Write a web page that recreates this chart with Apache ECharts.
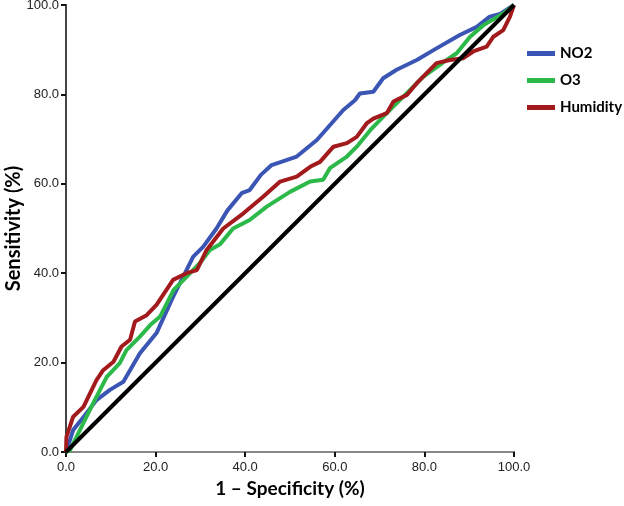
<!DOCTYPE html>
<html>
<head>
<meta charset="utf-8">
<script src="https://cdn.jsdelivr.net/npm/echarts@6/dist/echarts.min.js"></script>
<style>
  html, body { margin: 0; padding: 0; background: #fff; }
  #chart { width: 624px; height: 506px; }
</style>
</head>
<body>
<div id="chart"></div>
<script>
// ROC curves, values: [1 - specificity, sensitivity] in %
const no2 = [[0,0],[1.6,4.9],[3.1,6.8],[6.8,11.6],[9.8,13.9],[12.8,15.7],[16.5,22.1],[20.2,26.6],
  [23.9,34.7],[28.4,43.7],[30.6,45.9],[33.6,50],[36,54],[39.2,57.9],[41,58.6],[43.5,62],[45.9,64.2],
  [51.5,66.1],[56,69.8],[61.9,76.5],[64.5,78.7],[65.6,80.2],[68.6,80.6],[70.8,83.6],[73.8,85.5],
  [78.3,87.7],[82.7,90.3],[87.9,93.3],[91.7,95.1],[94.6,97.4],[96.9,98],[100,100]];
const o3 = [[0,0],[0.9,0.4],[3.1,4.9],[6.1,11],[9.1,16.8],[12,19.9],[13.5,22.8],[16.5,25.8],
  [18.8,28.4],[21,30.3],[24,36.2],[26.9,39.2],[29.9,42.3],[32.1,45.2],[34.4,46.5],[37.3,50],
  [41,51.9],[44.8,54.9],[50,58.2],[54.5,60.5],[57.4,60.9],[58.9,63.5],[62.7,66.1],[64.9,68.3],
  [67.9,72],[71.6,75.8],[75.3,79.5],[79.8,84],[85,87.7],[87.2,89.2],[90.2,92.9],[93.2,95.5],
  [97.6,98.1],[100,100]];
const humidity = [[0,0],[0.1,3.4],[1.6,7.9],[3.9,10.1],[6.8,16.1],[8.3,18.3],[10.6,20.2],[12.4,23.6],
  [14.3,25.1],[15.4,29.2],[18,30.6],[20.2,32.9],[23.9,38.5],[26.9,40],[29.2,40.7],[31.4,45.2],
  [35.1,50],[39.6,53.4],[44,57.1],[47.8,60.5],[51.5,61.6],[54.5,63.8],[56.7,64.9],[59.7,68.3],
  [62.7,69.1],[64.9,70.5],[67.1,73.5],[68.6,74.6],[71.6,75.8],[73.1,78.4],[76.1,79.9],[78.3,82.5],
  [82.7,87],[85.7,87.7],[88.7,88.1],[90.9,89.6],[93.9,90.7],[95.4,92.9],[97.6,94.4],[99.1,97.4],
  [100,100]];
const reference = [[0,0],[100,100]];
const seriesNames = ['NO2', 'O3', 'Humidity'];
const tickLabels = ['0.0', '20.0', '40.0', '60.0', '80.0', '100.0'];

const chart = echarts.init(document.getElementById('chart'));
const tickFmt = v => tickLabels[Math.round(v / 20)];
const titleFont = { fontFamily: 'Lato', fontWeight: 'bold', fontSize: 19, color: '#000' };
const labelFont = { fontFamily: 'Liberation Sans', fontSize: 13, color: '#222' };

const option = {
  animation: false,
  grid: { left: 66, right: 110, top: 5, bottom: 54, outerBoundsMode: 'none' },
  legend: {
    data: seriesNames,
    orient: 'vertical',
    left: 527,
    top: 46,
    padding: 0,
    icon: 'rect',
    itemWidth: 28,
    itemHeight: 5,
    itemGap: 12,
    textStyle: { fontFamily: 'Lato', fontWeight: 'bold', fontSize: 15, color: '#000' }
  },
  xAxis: [
    {
      type: 'value', min: 0, max: 100, interval: 20, position: 'bottom',
      name: '1 – Specificity (%)', nameLocation: 'middle', nameGap: 26, nameTextStyle: titleFont,
      axisLine: { lineStyle: { color: '#111', width: 2 } },
      axisTick: { show: true, length: 5, lineStyle: { color: '#111', width: 2 } },
      axisLabel: Object.assign({ formatter: tickFmt, margin: 9 }, labelFont),
      splitLine: { show: false }
    },
    {
      type: 'value', min: 0, max: 100, position: 'top',
      axisLine: { lineStyle: { color: '#888', width: 2 } },
      axisTick: { show: false }, axisLabel: { show: false }, splitLine: { show: false }
    }
  ],
  yAxis: [
    {
      type: 'value', min: 0, max: 100, interval: 20, position: 'left',
      name: 'Sensitivity (%)', nameLocation: 'middle', nameGap: 42, nameMoveOverlap: false,
      nameTextStyle: Object.assign({}, titleFont, { fontSize: 20 }),
      axisLine: { lineStyle: { color: '#111', width: 2 } },
      axisTick: { show: true, length: 5, lineStyle: { color: '#111', width: 2 } },
      axisLabel: Object.assign({ formatter: tickFmt, margin: 7 }, labelFont),
      splitLine: { show: false }
    },
    {
      type: 'value', min: 0, max: 100, position: 'right',
      axisLine: { lineStyle: { color: '#444', width: 2 } },
      axisTick: { show: false }, axisLabel: { show: false }, splitLine: { show: false }
    }
  ],
  series: [
    { name: 'NO2', type: 'line', data: no2, showSymbol: false, color: '#3a55b4',
      lineStyle: { width: 4 } },
    { name: 'O3', type: 'line', data: o3, showSymbol: false, color: '#2db84a',
      lineStyle: { width: 4 } },
    { name: 'Humidity', type: 'line', data: humidity, showSymbol: false, color: '#a31a1d',
      lineStyle: { width: 4 } },
    { name: 'Reference', type: 'line', data: reference, showSymbol: false, color: '#000',
      lineStyle: { width: 4 } }
  ]
};

chart.setOption(option);
</script>
</body>
</html>
